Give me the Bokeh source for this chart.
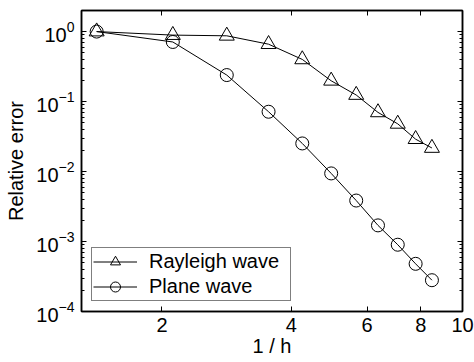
from bokeh.plotting import figure
from bokeh.models import (LogAxis, FixedTicker, PrintfTickFormatter, CustomJSTickFormatter,
                          Legend, LegendItem, Range1d)
from bokeh.embed import file_html
from bokeh.resources import INLINE

# ---- data ----
inv_h = [1.41, 2.12, 2.83, 3.54, 4.24, 4.95, 5.66, 6.36, 7.07, 7.78, 8.49]
rayleigh_err = [1.0, 0.89, 0.87, 0.66, 0.40, 0.198, 0.124, 0.070, 0.048, 0.029, 0.0217]
plane_err = [1.0, 0.71, 0.239, 0.0715, 0.0252, 0.0094, 0.00385, 0.0017, 0.00090, 0.00048, 0.00028]
series_names = ["Rayleigh wave", "Plane wave"]
x_ticks = [2, 4, 6, 8, 10]
y_ticks = [1e-4, 1e-3, 1e-2, 1e-1, 1.0]
x_limits = (1.3, 10.0)
y_limits = (1e-4, 2.0)
x_title = "1 / h"
y_title = "Relative error"

FONT = "Liberation Sans"
FS = "20px"

y_minor = [m * t for t in y_ticks for m in range(2, 10)]

p = figure(width=474, height=362, x_axis_type="log", y_axis_type="log",
           x_range=Range1d(*x_limits), y_range=Range1d(*y_limits),
           output_backend="svg", toolbar_location=None,
           min_border_left=81, min_border_right=12, min_border_top=10, min_border_bottom=51)
p.xgrid.visible = False
p.ygrid.visible = False
p.outline_line_color = "black"
p.outline_line_width = 1.5
p.background_fill_color = "white"
p.border_fill_color = "white"

def style_axis(ax):
    ax.axis_line_color = "black"
    ax.axis_line_width = 1.5
    ax.major_tick_line_color = "black"
    ax.minor_tick_line_color = "black"
    ax.major_tick_in = 5
    ax.major_tick_out = 0
    ax.minor_tick_in = 3
    ax.minor_tick_out = 0
    ax.major_label_text_font = FONT
    ax.major_label_text_font_size = FS
    ax.major_label_text_color = "black"

xt = FixedTicker(ticks=x_ticks, minor_ticks=[])
yt = FixedTicker(ticks=y_ticks, minor_ticks=y_minor)

xa = p.xaxis[0]
xa.ticker = xt
xa.formatter = PrintfTickFormatter(format="%d")
style_axis(xa)
xa.major_label_standoff = 6
xa.axis_label = x_title
xa.axis_label_text_font = FONT
xa.axis_label_text_font_size = FS
xa.axis_label_text_font_style = "normal"
xa.axis_label_text_color = "black"
xa.axis_label_standoff = 0

ya = p.yaxis[0]
ya.ticker = yt
style_axis(ya)
ya.major_label_standoff = 7
ya.axis_label = y_title
ya.axis_label_text_font = FONT
ya.axis_label_text_font_size = FS
ya.axis_label_text_font_style = "normal"
ya.axis_label_text_color = "black"
ya.axis_label_standoff = 6

empty = CustomJSTickFormatter(code="return ''")
top = LogAxis(ticker=xt, formatter=empty)
style_axis(top)
top.major_label_text_font_size = "0px"
top.major_label_standoff = 0
p.add_layout(top, "above")
right = LogAxis(ticker=yt, formatter=empty)
style_axis(right)
right.major_label_text_font_size = "0px"
right.major_label_standoff = 0
p.add_layout(right, "right")

l1 = p.line(inv_h, rayleigh_err, line_color="black", line_width=1)
s1 = p.scatter(inv_h, rayleigh_err, marker="triangle", size=15, fill_color=None,
               line_color="black", line_width=1)
l2 = p.line(inv_h, plane_err, line_color="black", line_width=1)
s2 = p.scatter(inv_h, plane_err, marker="circle", size=13, fill_color=None,
               line_color="black", line_width=1)

legend = Legend(items=[LegendItem(label=series_names[0], renderers=[l1, s1]),
                       LegendItem(label=series_names[1], renderers=[l2, s2])],
                location="bottom_left", margin=10, padding=1, spacing=0,
                glyph_width=44, glyph_height=25, label_standoff=12, label_height=20,
                label_width=140,
                label_text_font=FONT, label_text_font_size=FS, label_text_color="black",
                border_line_color="black", border_line_width=1.5,
                background_fill_color="white", background_fill_alpha=1.0)
p.add_layout(legend)

open("out.html", "w").write(file_html(p, INLINE))
